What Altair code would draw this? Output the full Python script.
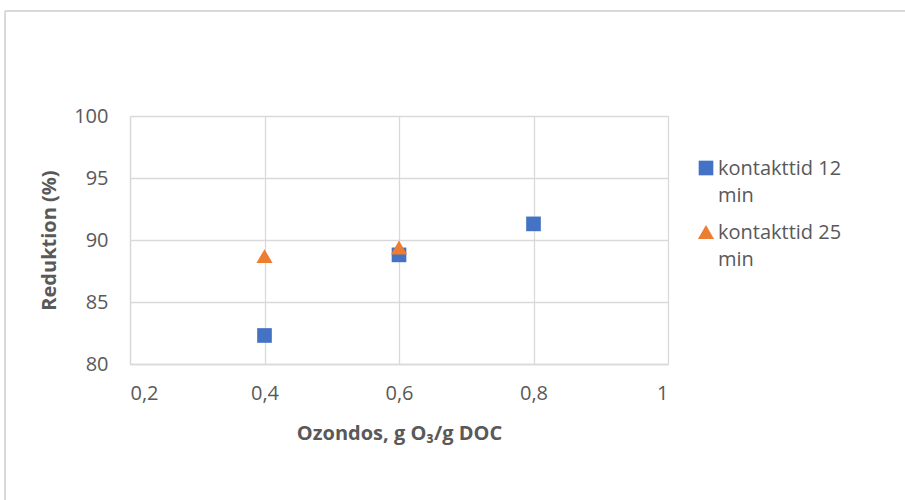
import altair as alt
import pandas as pd

series = ["kontakttid 12 min", "kontakttid 25 min"]
dose_12 = [0.4, 0.6, 0.8]
red_12 = [82.3, 88.8, 91.3]
dose_25 = [0.4, 0.6]
red_25 = [88.7, 89.4]

df = pd.DataFrame({
    "dose": dose_12 + dose_25,
    "red": red_12 + red_25,
    "serie": [series[0]] * len(dose_12) + [series[1]] * len(dose_25),
})

FONT = "Open Sans"
GREY = "#595959"

points = alt.Chart(df).mark_point(filled=True, opacity=1).encode(
    x=alt.X("dose:Q", scale=alt.Scale(domain=[0.2, 1.0], nice=False),
            axis=alt.Axis(values=[0.2, 0.4, 0.6, 0.8, 1.0],
                          labelExpr="replace(toString(datum.value), '.', ',')",
                          title="Ozondos, g O₃/g DOC")),
    y=alt.Y("red:Q", scale=alt.Scale(domain=[80, 100], nice=False, zero=False),
            axis=alt.Axis(values=[80, 85, 90, 95, 100], title="Reduktion (%)")),
    color=alt.Color("serie:N", scale=alt.Scale(domain=series, range=["#4472C4", "#ED7D31"]),
                    legend=alt.Legend(title=None, orient="none", legendX=566, legendY=42,
                                      labelExpr="[slice(datum.label, 0, 13), 'min']",
                                      labelFontSize=20, labelColor=GREY, labelFont=FONT,
                                      symbolSize=190, labelBaseline="top", labelOffset=2,
                                      rowPadding=16, symbolOffset=0)),
    shape=alt.Shape("serie:N", scale=alt.Scale(domain=series, range=["square", "triangle-up"]),
                    legend=None),
    size=alt.Size("serie:N", scale=alt.Scale(domain=series, range=[215, 260]), legend=None),
)

top_edge = alt.Chart(df).mark_rule(stroke="#d9d9d9", strokeWidth=1.5).encode(
    x=alt.value(-125), x2=alt.value(800), y=alt.value(-105)
)
left_edge = alt.Chart(df).mark_rule(stroke="#d9d9d9", strokeWidth=1.5).encode(
    x=alt.value(-125), y=alt.value(-105), y2=alt.value(400)
)

chart = alt.layer(top_edge, left_edge, points).properties(
    width=538, height=248,
    autosize=alt.AutoSizeParams(type="none"),
    padding={"left": 130, "top": 116, "right": 237, "bottom": 136},
).configure(
    style={"guide-label": {"lineHeight": 27, "dy": -9}}
).configure_view(stroke=None).configure_axis(
    grid=True, gridColor="#d9d9d9", gridWidth=1.3, domainColor="#d9d9d9", domainWidth=1.3,
    ticks=False, labelFont=FONT, labelFontSize=20, labelColor=GREY,
    titleFont=FONT, titleFontSize=20, titleFontWeight="bold", titleColor=GREY,
).configure_axisY(labelPadding=22, titlePadding=14, labelOffset=9).configure_axisX(labelPadding=28, titlePadding=20)

chart.save("out.html", embed_options={"renderer": "svg", "actions": False})
